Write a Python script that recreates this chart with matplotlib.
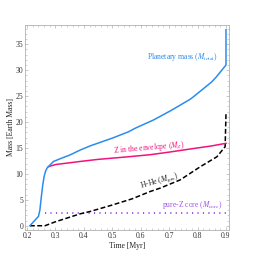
import numpy as np
import matplotlib
matplotlib.use("Agg")
import matplotlib.pyplot as plt
from matplotlib.ticker import MultipleLocator, FuncFormatter

plt.rcParams['font.family'] = ['Liberation Serif', 'DejaVu Serif']
plt.rcParams['mathtext.fontset'] = 'stix'

# data (time in Myr, mass in Earth masses)
t_total = [0.21, 0.24, 0.245, 0.25, 0.255, 0.26, 0.265, 0.27, 0.275, 0.293, 0.32, 0.351,
           0.387, 0.422, 0.5, 0.556, 0.584, 0.645, 0.672, 0.709, 0.774, 0.786, 0.85,
           0.866, 0.894, 0.9, 0.9]
m_total = [0.0, 1.8, 3.0, 5.5, 7.8, 9.5, 10.5, 11.1, 11.4, 12.4, 13.0, 13.65,
           14.6, 15.4, 16.9, 18.1, 18.9, 20.4, 21.2, 22.3, 24.4, 24.9, 27.75,
           28.7, 30.6, 31.0, 37.8]

t_z = [0.275, 0.3, 0.387, 0.45, 0.556, 0.633, 0.7, 0.774, 0.85, 0.9]
m_z = [11.4, 11.8, 12.4, 12.8, 13.3, 13.7, 14.2, 14.8, 15.4, 15.9]

t_gas = [0.21, 0.263, 0.3, 0.387, 0.422, 0.5, 0.57, 0.633, 0.668, 0.739, 0.81,
         0.868, 0.897, 0.9]
m_gas = [0.0, 0.0, 0.77, 2.3, 2.75, 4.0, 5.2, 6.6, 7.25, 8.85, 11.4,
         13.3, 15.25, 21.7]

t_core = [0.263, 0.9]
m_core = [2.4, 2.4]

blue = '#2b8cf0'
pink = '#f0147c'
purple = '#a050e6'

fig = plt.figure(figsize=(2.56, 2.56), dpi=100)
ax = fig.add_axes([0.098, 0.102, 0.797, 0.8])

ax.plot(t_core, m_core, color=purple, lw=1.4, ls=(0, (0.6, 2.2)), dash_capstyle='butt')
ax.plot(t_gas, m_gas, color='black', lw=1.1, ls=(0, (3.2, 1.6)))
ax.plot(t_z, m_z, color=pink, lw=1.1)
ax.plot(t_total, m_total, color=blue, lw=1.1)

ax.set_xlim(0.193, 0.911)
ax.set_ylim(-0.8, 38.7)
ax.xaxis.set_major_locator(MultipleLocator(0.1))
ax.xaxis.set_minor_locator(MultipleLocator(0.02))
ax.yaxis.set_major_locator(MultipleLocator(5))
ax.yaxis.set_minor_locator(MultipleLocator(1))
ax.xaxis.set_major_formatter(FuncFormatter(lambda v, p: f'{v:.1f}'))

for s in ax.spines.values():
    s.set_color('#b0b0b0')
    s.set_linewidth(0.6)
ax.tick_params(which='both', direction='in', top=True, right=True, colors='#b0b0b0',
               labelcolor='#333333', labelsize=5.5, pad=1.5)
ax.tick_params(which='major', length=2.5, width=0.5)
ax.tick_params(which='minor', length=1.3, width=0.4)

ax.set_xlabel('Time [Myr]', fontsize=5.5, color='#222222', labelpad=1.5)
ax.set_ylabel('Mass [Earth Mass]', fontsize=5.5, color='#222222', labelpad=0.5)

ax.text(0.87, 32.6, r'Planetary mass ($M_{\rm total}$)', color=blue, fontsize=5.5,
        ha='right', va='center')
ax.text(0.63, 15.0, r'Z in the envelope ($M_Z$)', color=pink, fontsize=5.5,
        ha='center', va='center', rotation=5)
ax.text(0.665, 8.7, r'H-He ($M_{\rm gas}$)', color='#222222', fontsize=5.5,
        ha='center', va='center', rotation=16)
ax.text(0.78, 4.0, r'pure-Z core ($M_{\rm core}$)', color=purple, fontsize=5.5,
        ha='center', va='center')

fig.savefig('out.png', dpi=100)
